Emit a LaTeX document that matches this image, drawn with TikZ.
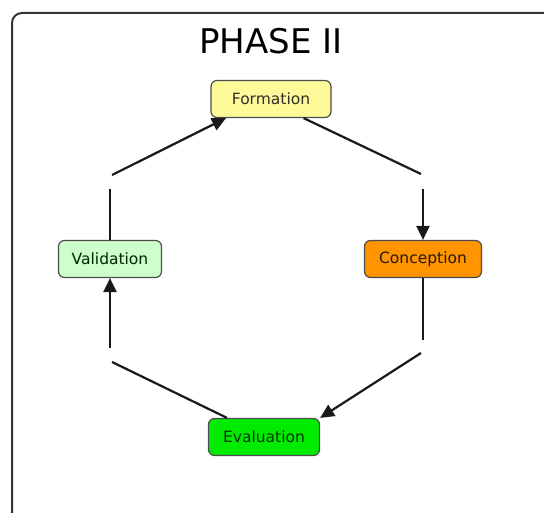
\documentclass[tikz,border=0pt]{standalone}
\usepackage{fontspec}
\setmainfont{DejaVu Sans}
\usetikzlibrary{arrows.meta}
\begin{document}
\begin{tikzpicture}[x=1pt,y=-1pt,
  concept/.style={draw=black!70, line width=1.2pt, rounded corners=6pt, minimum height=37pt, inner xsep=0pt, font=\fontsize{15.5}{18}\selectfont},
  link/.style={line width=2.2pt, draw=black!90},
  arr/.style={link, -{Triangle[length=14pt,width=13pt]}}]
\useasboundingbox (0,0) rectangle (544,513);
\draw[line width=2pt, draw=black!80, rounded corners=10pt] (12,535) -- (12,13) -- (560,13);
\node (title) at (271,41) {\fontsize{34}{40}\selectfont PHASE II};
\node[concept, fill=yellow!40, text=black!85!olive, minimum width=120pt] (form) at (271,99) {Formation};
\node[concept, fill=orange!85!yellow, text=black!80!brown, minimum width=117pt] (conc) at (423,259) {Conception};
\node[concept, fill=green!20, text=black!85!green, minimum width=103pt] (vali) at (110,259) {Validation};
\node[concept, fill=green!92!black, text=black!80!green, minimum width=111pt] (eval) at (264,437) {Evaluation};
\coordinate (fc1) at (421,174);
\coordinate (fc2) at (423,189);
\coordinate (ce1) at (423,340);
\coordinate (ce2) at (421,353);
\coordinate (ev1) at (112,362);
\coordinate (ev2) at (110,348);
\coordinate (vf1) at (110,189);
\coordinate (vf2) at (112,175);
\draw[link] ([xshift=-28pt]form.south east) -- (fc1);
\draw[arr] (fc2) -- (conc.north);
\draw[link] (conc.south) -- (ce1);
\draw[arr] (ce2) -- (eval.north east);
\draw[link] ([xshift=-37pt]eval.north) -- (ev1);
\draw[arr] (ev2) -- (vali.south);
\draw[link] (vali.north) -- (vf1);
\draw[arr] (vf2) -- ([xshift=-45pt]form.south);
\end{tikzpicture}
\end{document}
